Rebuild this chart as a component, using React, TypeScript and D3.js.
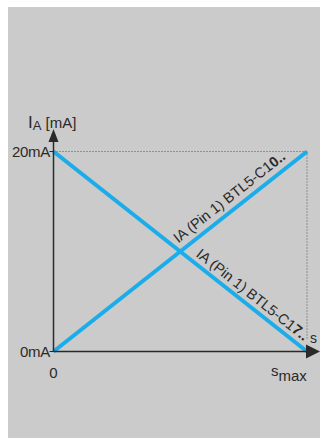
import React from "react";
import * as d3 from "d3";

// Stroke position, normalised to s_max
const positions = [0, 1];
// Output current in mA for the two sensor variants
const currentC10 = [0, 20];
const currentC17 = [20, 0];
const yTicks = [0, 20];
const yTickLabels = ["0mA", "20mA"];

const W = 320;
const H = 439;
const BLUE = "#1aadea";
const INK = "#2a2a2a";
const FONT = "'Liberation Sans', Arial, Helvetica, sans-serif";

// Point at fraction t along a segment, pushed by `off` px towards the text's "up" side
function alongLine(
  p0: [number, number],
  p1: [number, number],
  t: number,
  off: number
): [number, number] {
  const dx = p1[0] - p0[0];
  const dy = p1[1] - p0[1];
  const len = Math.hypot(dx, dy);
  const nx = dy / len;
  const ny = -dx / len;
  return [p0[0] + dx * t + nx * off, p0[1] + dy * t + ny * off];
}

export default function App() {
  const x = d3.scaleLinear().domain([0, 1]).range([53.5, 307]);
  const y = d3.scaleLinear().domain([0, 20]).range([351.5, 151.5]);

  const line = d3
    .line<number>()
    .x((_, i) => x(positions[i]))
    .y((d) => y(d));

  const upA: [number, number] = [x(positions[0]), y(currentC10[0])];
  const upB: [number, number] = [x(positions[1]), y(currentC10[1])];
  const dnA: [number, number] = [x(positions[0]), y(currentC17[0])];
  const dnB: [number, number] = [x(positions[1]), y(currentC17[1])];

  const angleUp = (Math.atan2(upB[1] - upA[1], upB[0] - upA[0]) * 180) / Math.PI;
  const angleDown = (Math.atan2(dnB[1] - dnA[1], dnB[0] - dnA[0]) * 180) / Math.PI;

  const upLabel = alongLine(upA, upB, 0.51, 7.5);
  const dnLabel = alongLine(dnA, dnB, 0.545, 6);

  return (
    <svg
      width={W}
      height={H}
      style={{ position: "absolute", left: 0, top: 0 }}
      fontFamily={FONT}
    >
      <rect x={0} y={0} width={W} height={H} fill="#fff" />
      <rect x={8} y={7} width={312} height={431} fill="#cbcbcb" />

      {/* reference lines at full scale */}
      <line
        x1={x(0)}
        x2={x(1)}
        y1={y(20)}
        y2={y(20)}
        stroke="#555"
        strokeWidth={1}
        strokeDasharray="1 2"
      />
      <line
        x1={x(1)}
        x2={x(1)}
        y1={y(20)}
        y2={y(0) - 12}
        stroke="#555"
        strokeWidth={1}
        strokeDasharray="1 2"
      />

      {/* output characteristics */}
      <path d={line(currentC10) || ""} fill="none" stroke={BLUE} strokeWidth={4} />
      <path d={line(currentC17) || ""} fill="none" stroke={BLUE} strokeWidth={4} />

      {/* axes */}
      <line x1={x(0)} x2={x(0)} y1={y(0)} y2={140} stroke={INK} strokeWidth={1.5} />
      <path d={`M${x(0)},129 L${x(0) - 5},142 L${x(0) + 5},142 Z`} fill={INK} />
      <line x1={x(0)} x2={308} y1={y(0)} y2={y(0)} stroke={INK} strokeWidth={1.5} />
      <path
        d={`M320,${y(0)} L306,${y(0) - 7} L306,${y(0) + 7} Z`}
        fill={INK}
      />

      {yTicks.map((t, i) => (
        <g key={t}>
          <line x1={x(0) - 4} x2={x(0)} y1={y(t)} y2={y(t)} stroke={INK} strokeWidth={1} />
          <text
            x={x(0) - 3.5}
            y={y(t) + 5.5}
            textAnchor="end"
            fontSize={15}
            fill={INK}
            letterSpacing={-0.3}
          >
            {yTickLabels[i]}
          </text>
        </g>
      ))}

      {/* axis titles */}
      <text x={28} y={128} fontSize={17} fill={INK}>
        I
        <tspan fontSize={13} dy={2}>A</tspan>
        <tspan dy={-2} fontSize={15}> [mA]</tspan>
      </text>
      <text x={x(0)} y={378} textAnchor="middle" fontSize={15} fill={INK}>
        0
      </text>
      <text x={271} y={376} fontSize={15} fill={INK}>
        s<tspan dy={5}>max</tspan>
      </text>
      <text x={310} y={343} fontSize={14} fill={INK}>
        s
      </text>

      {/* line labels */}
      <text
        transform={`translate(${upLabel[0]},${upLabel[1]}) rotate(${angleUp})`}
        fontSize={14.5}
        fill={INK}
      >
        IA (Pin 1) BTL5-C1<tspan fontWeight="bold">0</tspan>
        <tspan fontWeight="bold">..</tspan>
      </text>
      <text
        transform={`translate(${dnLabel[0]},${dnLabel[1]}) rotate(${angleDown})`}
        fontSize={14.5}
        fill={INK}
      >
        IA (Pin 1) BTL5-C1<tspan fontWeight="bold">7</tspan>
        <tspan fontWeight="bold">..</tspan>
      </text>
    </svg>
  );
}
